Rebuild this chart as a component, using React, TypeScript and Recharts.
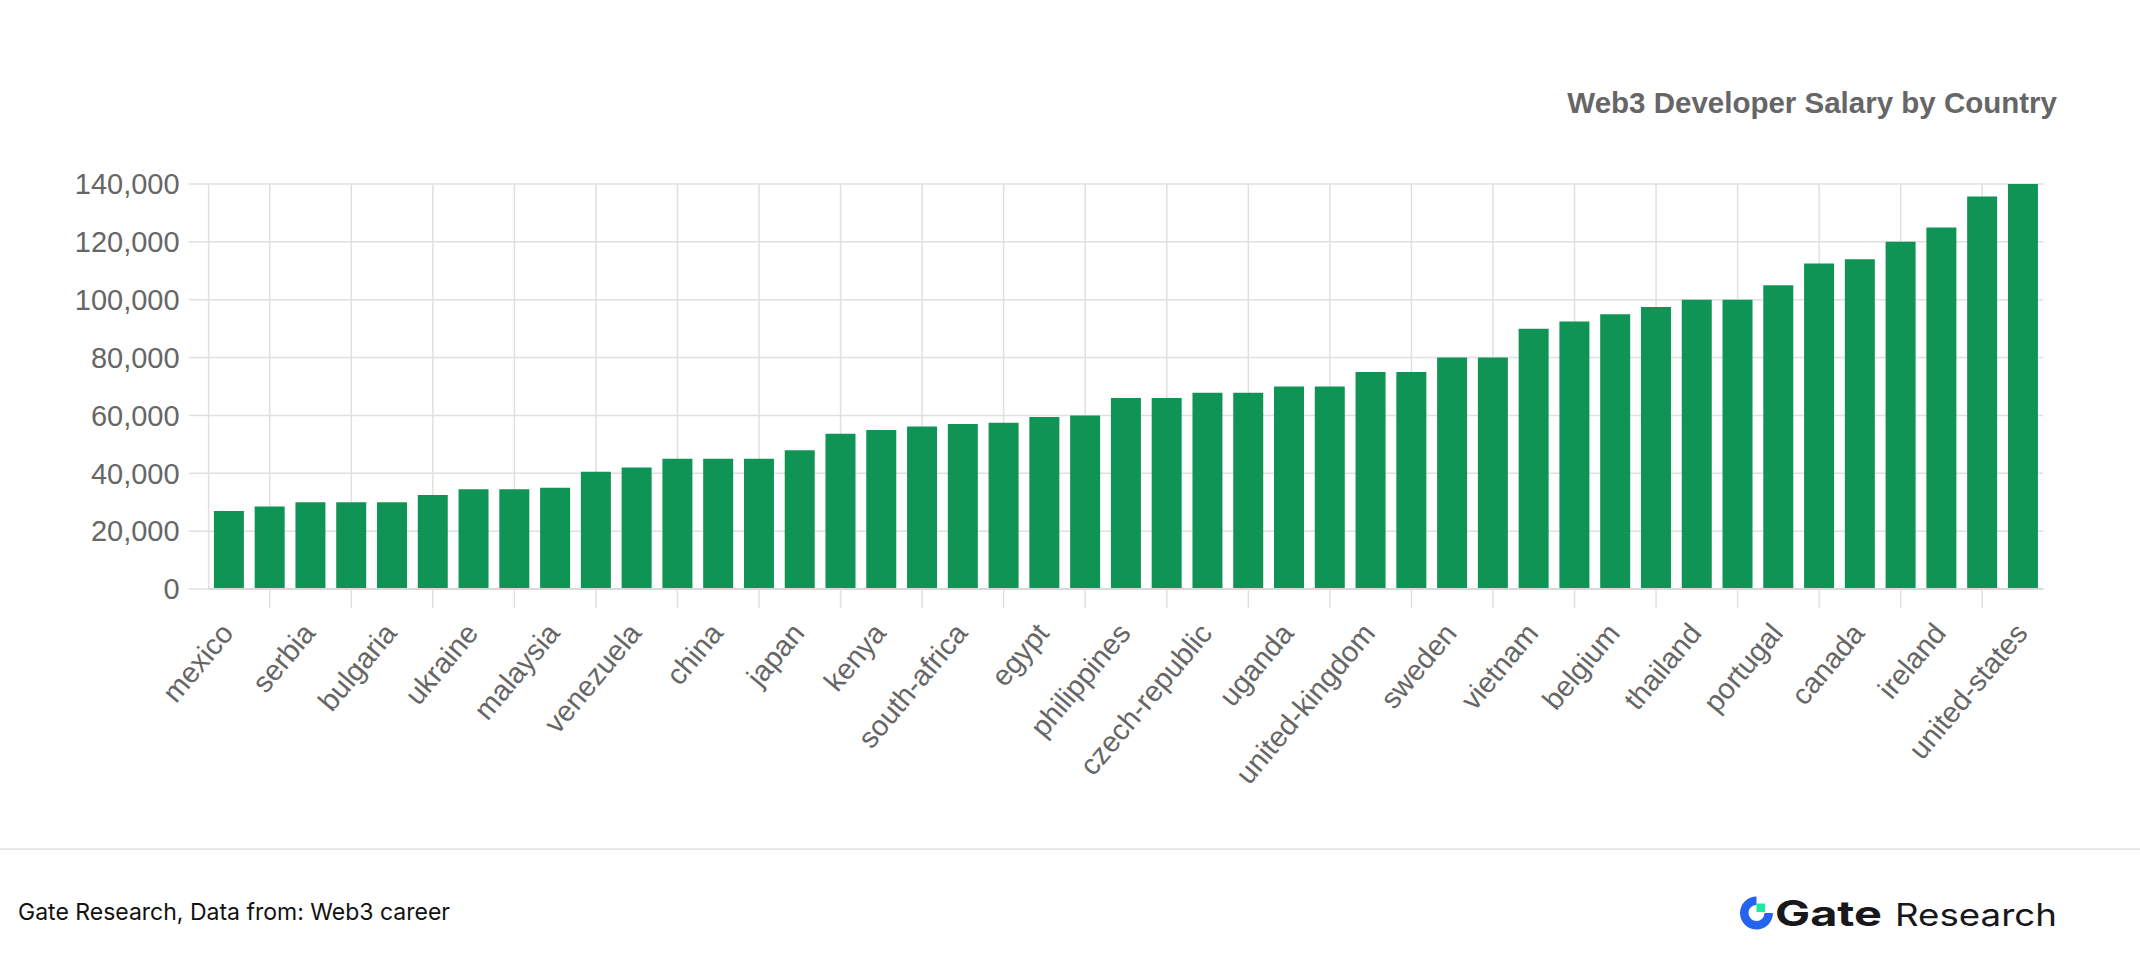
import React from 'react';
import { BarChart, Bar, XAxis, YAxis, CartesianGrid } from 'recharts';

const COUNTRIES = [
  'mexico', 'argentina', 'serbia', 'brazil', 'bulgaria', 'india', 'ukraine', 'nigeria',
  'malaysia', 'turkey', 'venezuela', 'indonesia', 'china', 'pakistan', 'japan', 'romania',
  'kenya', 'poland', 'south-africa', 'russia', 'egypt', 'spain', 'philippines', 'greece',
  'czech-republic', 'italy', 'uganda', 'hungary', 'united-kingdom', 'france', 'sweden', 'estonia',
  'vietnam', 'germany', 'belgium', 'netherlands', 'thailand', 'finland', 'portugal', 'singapore',
  'canada', 'australia', 'ireland', 'switzerland', 'united-states',
];

const SALARIES = [
  27000, 28500, 30000, 30000, 30000, 32500, 34500, 34500,
  35000, 40500, 42000, 45000, 45000, 45000, 48000, 53700,
  55000, 56200, 57000, 57500, 59500, 60000, 66000, 66000,
  67800, 67800, 70000, 70000, 75000, 75000, 80000, 80000,
  90000, 92500, 95000, 97500, 100000, 100000, 105000, 112500,
  114000, 120000, 125000, 135700, 140000,
];

const Y_TICKS = [0, 20000, 40000, 60000, 80000, 100000, 120000, 140000];

const TITLE = 'Web3 Developer Salary by Country';
const SOURCE = 'Gate Research, Data from: Web3 career';

const data = COUNTRIES.map((name, i) => ({ name, salary: SALARIES[i] }));
const gridNames = COUNTRIES.filter((_, i) => i % 2 === 1);

const GRID = '#e0e0e0';
const LABEL = '#666666';
const BAR = '#0f9455';
const FONT = '"Liberation Sans", Arial, Helvetica, sans-serif';

const XTick = (props: any) => {
  const { x, y, payload, index } = props;
  const i = typeof index === 'number' ? index : payload?.index;
  if (i % 2 === 1) {
    return <line x1={x} y1={y} x2={x} y2={y + 19} stroke={GRID} strokeWidth={1.5} />;
  }
  const ax = x + 6;
  const ay = y + 45;
  return (
    <text
      x={ax}
      y={ay}
      transform={`rotate(-50, ${ax}, ${ay})`}
      textAnchor="end"
      fill={LABEL}
      fontSize={29}
      fontFamily={FONT}
    >
      {payload.value}
    </text>
  );
};

export default function App() {
  return (
    <div
      style={{
        position: 'absolute',
        left: 0,
        top: 0,
        width: 2140,
        height: 978,
        background: '#ffffff',
        overflow: 'hidden',
      }}
    >
      <BarChart
        width={2140}
        height={978}
        data={data}
        margin={{ top: 184, right: 96.6, bottom: 189, left: 58.6 }}
        barCategoryGap="13%"
      >
        <CartesianGrid stroke={GRID} strokeWidth={1.5} verticalValues={gridNames} />
        <XAxis
          dataKey="name"
          interval={0}
          tickSize={0}
          tickMargin={0}
          tickLine={false}
          height={200}
          axisLine={{ stroke: '#d8d8d8', strokeWidth: 2 }}
          tick={<XTick />}
        />
        <YAxis
          domain={[0, 140000]}
          ticks={Y_TICKS}
          interval={0}
          width={150}
          tickSize={20}
          tickMargin={9}
          axisLine={{ stroke: GRID, strokeWidth: 1.5 }}
          tickLine={{ stroke: GRID, strokeWidth: 1.5 }}
          tick={{ fill: LABEL, fontSize: 29, fontFamily: FONT }}
          tickFormatter={(v: number) => v.toLocaleString('en-US')}
        />
        <Bar dataKey="salary" fill={BAR} isAnimationActive={false} />
      </BarChart>
      <svg
        width={2140}
        height={978}
        style={{ position: 'absolute', left: 0, top: 0, pointerEvents: 'none' }}
      >
        <text
          x={2057}
          y={113}
          textAnchor="end"
          fill={LABEL}
          fontSize={29.5}
          fontWeight="bold"
          fontFamily={FONT}
        >
          {TITLE}
        </text>
        <rect x={0} y={848} width={2140} height={2} fill="#e8e8e8" />
        <text x={18} y={920} fill="#111111" fontSize={23} fontFamily="Inter, 'Noto Sans', sans-serif">
          {SOURCE}
        </text>
        <path
          d="M 1756.5 896.5 A 16.5 16.5 0 1 0 1773 913 L 1764.5 913 A 8 8 0 1 1 1756.5 905 Z"
          fill="#2563f0"
        />
        <rect x={1756.5} y={903.5} width={8.5} height={8.5} fill="#1de9a0" />
        <text
          x={1775}
          y={926}
          fill="#17171c"
          fontSize={35}
          fontWeight={700}
          fontFamily="Inter, 'Noto Sans', sans-serif"
          textLength={107}
          lengthAdjust="spacingAndGlyphs"
        >
          Gate
        </text>
        <text
          x={1895}
          y={926}
          fill="#17171c"
          fontSize={31}
          fontFamily="Inter, 'Noto Sans', sans-serif"
          textLength={162}
          lengthAdjust="spacingAndGlyphs"
        >
          Research
        </text>
      </svg>
    </div>
  );
}
